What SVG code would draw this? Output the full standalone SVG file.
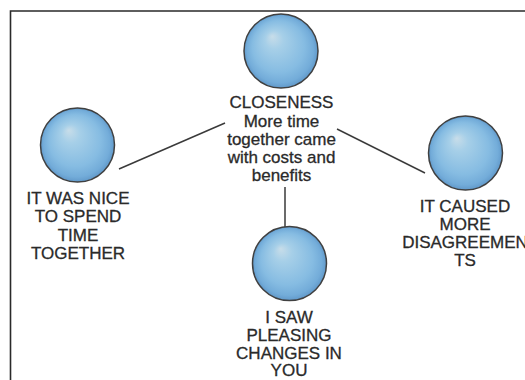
<svg xmlns="http://www.w3.org/2000/svg" width="525" height="380" viewBox="0 0 525 380">
  <defs>
    <radialGradient id="ball" cx="0.5" cy="0.5" r="0.5" fx="0.38" fy="0.3">
      <stop offset="0" stop-color="#c8dde9"/>
      <stop offset="0.25" stop-color="#a6cfe8"/>
      <stop offset="0.7" stop-color="#86bce2"/>
      <stop offset="0.9" stop-color="#73acd9"/>
      <stop offset="1" stop-color="#6199ca"/>
    </radialGradient>
  </defs>
  <style>
    .ball { fill: url(#ball); stroke: #404040; stroke-width: 1.5; }
    .lbl { font-family: "Liberation Sans", Arial, sans-serif; font-size: 17px; fill: #2a2a2a; stroke: #2a2a2a; stroke-width: 0.3; text-anchor: middle; }
    .link { stroke: #3a3a3a; stroke-width: 1.5; fill: none; }
    .frame { stroke: #2a2a2a; stroke-width: 1.6; fill: none; }
  </style>
  <rect width="525" height="380" fill="#ffffff"/>
  <path class="frame" d="M10.5 380 V11 H525"/>

  <g id="connectors">
    <line class="link" x1="225" y1="123" x2="119" y2="169"/>
    <line class="link" x1="337" y1="129" x2="425" y2="173"/>
    <line class="link" x1="285" y1="187" x2="285" y2="227"/>
  </g>

  <g id="closeness">
    <circle class="ball" cx="281" cy="51" r="37"/>
    <text class="lbl" x="281.5" y="108">CLOSENESS</text>
    <text class="lbl" x="281.5" y="126.5">More time</text>
    <text class="lbl" x="281.5" y="144.8">together came</text>
    <text class="lbl" x="281.5" y="163">with costs and</text>
    <text class="lbl" x="281.5" y="181.3">benefits</text>
  </g>

  <g id="nice-time">
    <circle class="ball" cx="77.5" cy="145" r="37"/>
    <text class="lbl" x="78" y="204">IT WAS NICE</text>
    <text class="lbl" x="78" y="222.4">TO SPEND</text>
    <text class="lbl" x="78" y="240.8">TIME</text>
    <text class="lbl" x="78" y="259.2">TOGETHER</text>
  </g>

  <g id="disagreements">
    <circle class="ball" cx="465.5" cy="153" r="37"/>
    <text class="lbl" x="465" y="212">IT CAUSED</text>
    <text class="lbl" x="465" y="230">MORE</text>
    <text class="lbl" x="465" y="248">DISAGREEMEN</text>
    <text class="lbl" x="465" y="266">TS</text>
  </g>

  <g id="pleasing-changes">
    <circle class="ball" cx="289.5" cy="263.5" r="37"/>
    <text class="lbl" x="289" y="323">I SAW</text>
    <text class="lbl" x="289" y="341">PLEASING</text>
    <text class="lbl" x="289" y="358.6">CHANGES IN</text>
    <text class="lbl" x="289" y="376">YOU</text>
  </g>
</svg>
